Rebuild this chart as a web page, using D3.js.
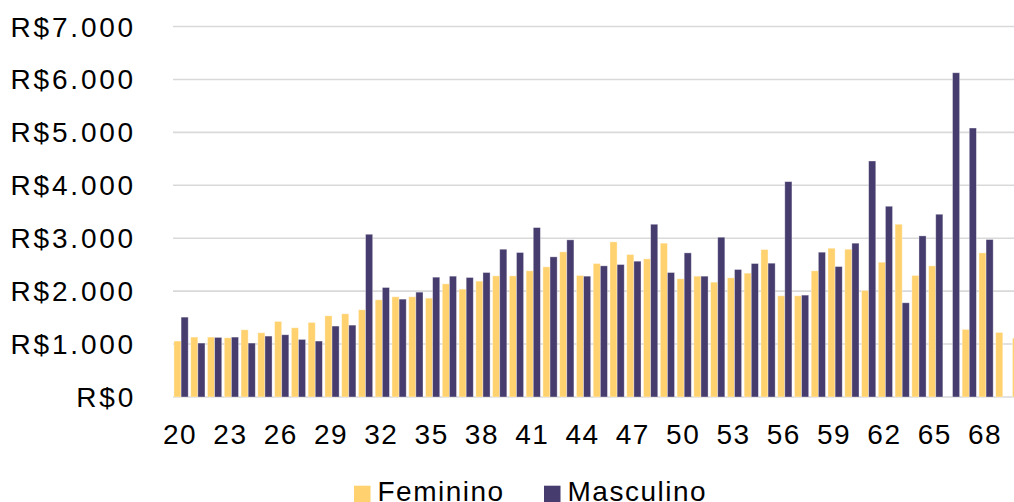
<!DOCTYPE html>
<html>
<head>
    <meta charset="utf-8">
    <title>Renda por idade</title>
    <script src="https://d3js.org/d3.v7.min.js"></script>
    <style>
        body { margin: 0; background: #fff; }
        svg { display: block; font-family: "Liberation Sans", Arial, sans-serif; }
    </style>
</head>
<body>
<div id="chart"></div>

<script>
    // idades (categorias)
    var ages = [20, 21, 22, 23, 24, 25, 26, 27, 28, 29, 30,
                31, 32, 33, 34, 35, 36, 37, 38, 39, 40,
                41, 42, 43, 44, 45, 46, 47, 48, 49, 50,
                51, 52, 53, 54, 55, 56, 57, 58, 59, 60,
                61, 62, 63, 64, 65, 66, 67, 68, 69, 70];

    var feminino = [1057, 1132, 1132, 1119, 1270, 1214, 1428, 1308, 1409, 1534, 1572,
                    1648, 1836, 1893, 1893, 1868, 2138, 2038, 2189, 2289, 2289,
                    2384, 2459, 2742, 2296, 2522, 2931, 2692, 2610, 2906, 2233,
                    2283, 2170, 2252, 2340, 2786, 1912, 1912, 2384, 2811, 2792,
                    2013, 2547, 3264, 2296, 2478, null, 1277, 2723, 1220, 1113];

    var masculino = [1509, 1019, 1126, 1132, 1019, 1151, 1176, 1088, 1057, 1340, 1358,
                     3075, 2069, 1849, 1981, 2264, 2283, 2258, 2352, 2792, 2730,
                     3201, 2648, 2969, 2283, 2478, 2503, 2566, 3264, 2352, 2723,
                     2283, 3019, 2409, 2522, 2528, 4069, 1925, 2736, 2465, 2906,
                     4459, 3604, 1780, 3044, 3453, 6126, 5082, 2975, null, null];

    var seriesNames = ["Feminino", "Masculino"];
    var seriesColors = ["#FFD26F", "#463C6D"];

    var yTicks = [0, 1000, 2000, 3000, 4000, 5000, 6000, 7000];
    var xTickLabels = [20, 23, 26, 29, 32, 35, 38, 41, 44, 47, 50, 53, 56, 59, 62, 65, 68];

    var width = 1014, height = 502;
    var plotLeft = 172.7, step = 16.77;

    var svg = d3.select("#chart").append("svg")
        .attr("width", width)
        .attr("height", height);

    // o grafico original continua alem da borda direita
    var x0 = d3.scaleBand()
        .domain(ages)
        .range([plotLeft, plotLeft + step * ages.length])
        .paddingInner(0.15)
        .paddingOuter(0.075);

    var x1 = d3.scaleBand()
        .domain(seriesNames)
        .range([0, x0.bandwidth()]);

    var y = d3.scaleLinear()
        .domain([0, 7000])
        .range([397, 26.5]);

    function formatBRL(v) {
        if (v == 0) return "R$0";
        return "R$" + d3.format(",")(v).replace(/,/g, ".");
    }

    // linhas de grade
    svg.append("g")
        .selectAll("line")
        .data(yTicks)
        .enter().append("line")
        .attr("x1", 173)
        .attr("x2", width)
        .attr("y1", function (d) { return y(d); })
        .attr("y2", function (d) { return y(d); })
        .attr("stroke", "#D9D9D9")
        .attr("stroke-width", 1.6);

    // rotulos do eixo y
    svg.append("g")
        .selectAll("text")
        .data(yTicks)
        .enter().append("text")
        .attr("x", 136)
        .attr("y", function (d) { return y(d) + 10; })
        .attr("text-anchor", "end")
        .attr("font-size", "28px")
        .attr("letter-spacing", "2.8px")
        .attr("fill", "#000")
        .text(formatBRL);

    // barras
    var rows = ages.map(function (a, i) {
        return { age: a, values: [feminino[i], masculino[i]] };
    });

    var groups = svg.append("g")
        .selectAll("g")
        .data(rows)
        .enter().append("g")
        .attr("transform", function (d) { return "translate(" + x0(d.age) + ",0)"; });

    groups.selectAll("rect")
        .data(function (d) {
            return d.values.map(function (v, k) { return { name: seriesNames[k], value: v, k: k }; })
                .filter(function (e) { return e.value != null; });
        })
        .enter().append("rect")
        .attr("x", function (d) { return x1(d.name); })
        .attr("width", x1.bandwidth())
        .attr("y", function (d) { return y(d.value); })
        .attr("height", function (d) { return y(0) - y(d.value); })
        .attr("fill", function (d) { return seriesColors[d.k]; })
        .attr("stroke", "#fff")
        .attr("stroke-opacity", 0.45)
        .attr("stroke-width", 0.8);

    // rotulos do eixo x (a cada 3 idades)
    var xAxis = d3.axisBottom(x0)
        .tickValues(xTickLabels)
        .tickSize(0)
        .tickPadding(0);

    var gx = svg.append("g")
        .attr("transform", "translate(-1,443.5)")
        .call(xAxis);
    gx.select(".domain").remove();
    gx.selectAll("text")
        .attr("y", 0)
        .attr("dy", 0)
        .attr("font-size", "28px")
        .attr("font-family", "Liberation Sans, Arial, sans-serif")
        .attr("letter-spacing", "1.5px")
        .attr("fill", "#000");

    // legenda
    var legendX = [354, 544];
    var legend = svg.append("g")
        .selectAll("g")
        .data(seriesNames)
        .enter().append("g")
        .attr("transform", function (d, i) { return "translate(" + legendX[i] + ",0)"; });

    legend.append("rect")
        .attr("x", 0)
        .attr("y", 485.7)
        .attr("width", 16.5)
        .attr("height", 16.5)
        .attr("fill", function (d, i) { return seriesColors[i]; });

    legend.append("text")
        .attr("x", 23.5)
        .attr("y", 500.7)
        .attr("font-size", "28px")
        .attr("letter-spacing", "1.5px")
        .attr("fill", "#000")
        .text(function (d) { return d; });
</script>
</body>
</html>
